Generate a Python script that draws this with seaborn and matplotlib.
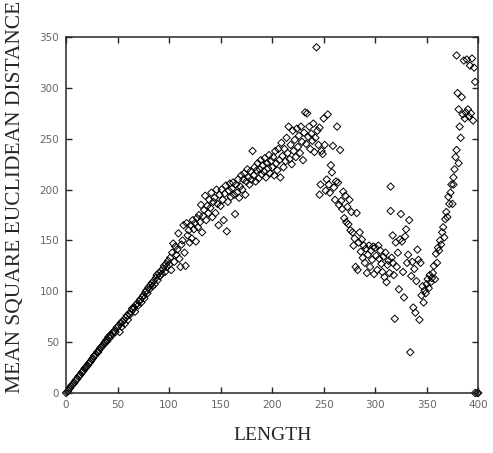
import numpy as np
import pandas as pd
import matplotlib
matplotlib.use("Agg")
import matplotlib.pyplot as plt
import seaborn as sns

# values (length, mean square euclidean distance)
length_rise = list(range(0, 101))
msd_rise = [0, 1, 2, 4, 5, 7, 8, 9, 10, 12, 13, 14, 16, 17, 18, 20, 21, 22, 24, 25,
            26, 27, 29, 30, 31, 33, 34, 36, 37, 38, 40, 40, 42, 44, 45, 46, 47, 49, 50, 52,
            51, 55, 54, 57, 56, 59, 60, 61, 60, 64, 65, 66, 60, 69, 65, 70, 72, 68, 74, 76,
            72, 78, 77, 80, 83, 82, 84, 80, 87, 88, 86, 90, 92, 89, 94, 96, 93, 99, 101, 98,
            104, 102, 106, 108, 105, 110, 107, 113, 116, 111, 118, 115, 120, 117, 122, 125, 119, 127, 124, 130,
            126]

length_mid = list(range(101, 201))
msd_mid = [133, 121, 138, 147, 129, 144, 136, 141, 157, 132, 124, 146, 150, 165, 138, 125, 167, 155, 160, 148,
           165, 152, 170, 161, 167, 149, 172, 163, 175, 168, 185, 158, 174, 180, 194, 170, 184, 177, 190, 182,
           197, 173, 188, 192, 177, 200, 186, 165, 195, 184, 200, 190, 170, 196, 204, 159, 188, 199, 206, 193,
           201, 207, 195, 176, 205, 197, 210, 192, 203, 214, 200, 210, 216, 195, 208, 220, 212, 205, 218, 210,
           238, 214, 222, 208, 219, 226, 211, 220, 229, 215, 224, 218, 231, 212, 226, 221, 234, 216, 228, 222]

length_peak = list(range(201, 246))
msd_peak = [232, 214, 238, 226, 219, 240, 229, 212, 246, 233, 222, 240, 228, 251, 236, 262, 230, 244, 225, 258,
            238, 249, 232, 260, 242, 253, 236, 262, 247, 229, 256, 276, 245, 275, 252, 262, 240, 255, 248, 265,
            237, 251, 340, 258, 244]

length_drop = [246, 246, 247, 248, 249, 250, 251, 252, 253, 254, 255, 256, 257, 258, 259, 260, 261, 262, 263, 264,
               265, 266, 267, 268, 269, 270, 271, 272, 273, 274, 275, 276, 277, 278, 279, 280, 281, 282, 283, 284,
               285, 286, 287, 288, 289, 290]
msd_drop = [261, 195, 205, 238, 235, 270, 244, 199, 210, 274, 205, 197, 224, 217, 243, 202, 190, 208, 262, 207,
            185, 239, 189, 181, 198, 172, 194, 168, 183, 166, 190, 160, 178, 158, 145, 152, 124, 177, 121, 148,
            158, 139, 151, 133, 145, 128]

length_trough = [291, 292, 293, 294, 295, 296, 297, 298, 299, 300, 301, 302, 303, 304, 305, 306, 307, 308, 309, 310,
                 311, 312, 313, 314, 315, 315, 316, 317, 317, 318, 319, 320, 321, 322, 323, 324, 325, 326, 327, 328,
                 329, 330, 331, 332, 333, 334, 335, 336, 337, 338, 339, 340, 341, 342, 343, 344, 345, 346, 347, 348,
                 349, 350, 351, 352, 353, 354, 355]
msd_trough = [142, 118, 136, 145, 124, 140, 131, 144, 117, 143, 135, 121, 145, 132, 140, 127, 119, 134, 114, 138,
              109, 126, 130, 118, 203, 179, 133, 155, 128, 116, 73, 148, 124, 138, 102, 151, 176, 149, 119, 94,
              154, 161, 128, 136, 170, 40, 115, 129, 84, 122, 79, 110, 141, 131, 72, 128, 96, 105, 89, 101,
              98, 107, 112, 103, 116, 109, 113]

length_climb = [356, 357, 358, 359, 360, 361, 362, 363, 364, 365, 366, 367, 368, 369, 370, 371, 372, 373, 374, 375,
                376, 376, 377, 378, 379, 379, 380, 381, 381, 382, 383, 384, 385, 386, 387, 388, 389, 390, 391, 392,
                393, 394, 395, 396, 397, 397, 399, 400]
msd_climb = [118, 125, 112, 137, 128, 143, 140, 150, 146, 158, 163, 153, 171, 178, 173, 193, 186, 197, 205, 186,
             212, 205, 220, 232, 239, 332, 295, 226, 279, 262, 251, 291, 274, 327, 270, 276, 328, 279, 272, 322,
             275, 329, 268, 320, 306, 0, 0, 0]

df = pd.DataFrame({
    "length": length_rise + length_mid + length_peak + length_drop + length_trough + length_climb,
    "msd": msd_rise + msd_mid + msd_peak + msd_drop + msd_trough + msd_climb,
})

sns.set_style("ticks")
fig = plt.figure(figsize=(4.93, 4.53), dpi=100)
ax = fig.add_axes([0.134, 0.1325, 0.836, 0.7855])

sns.scatterplot(data=df, x="length", y="msd", ax=ax, marker="D", s=14,
                facecolor="none", edgecolor="black", linewidth=0.7, clip_on=False)

ax.set_xlim(0, 400)
ax.set_ylim(0, 350)
ax.set_xticks(np.arange(0, 401, 50))
ax.set_yticks(np.arange(0, 351, 50))
ax.tick_params(direction="in", length=4, width=1, top=True, right=True,
               labelsize=7.5, labelcolor="#666666", pad=5)
for sp in ax.spines.values():
    sp.set_linewidth(1.1)
    sp.set_visible(True)

ax.set_xlabel("LENGTH", family="Liberation Serif", fontsize=14)
ax.set_ylabel("MEAN SQUARE EUCLIDEAN DISTANCE", family="Liberation Serif", fontsize=15.5)
ax.xaxis.set_label_coords(0.5, -0.097)
ax.yaxis.set_label_coords(-0.099, 0.55)

fig.savefig("out.png", dpi=100)
